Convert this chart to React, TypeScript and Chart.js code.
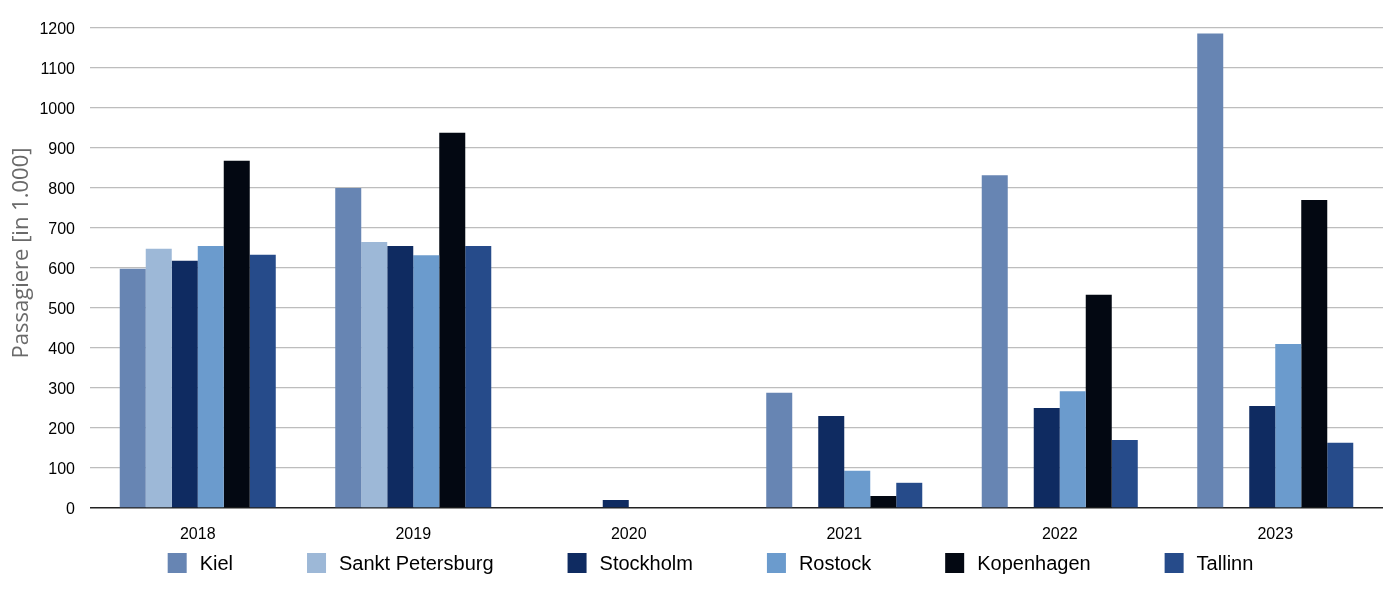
import React, { useEffect, useRef } from "react";
import { Chart, registerables } from "chart.js";

Chart.register(...registerables);

// ---- data ----
const categories = ["2018", "2019", "2020", "2021", "2022", "2023"];
const seriesNames = ["Kiel", "Sankt Petersburg", "Stockholm", "Rostock", "Kopenhagen", "Tallinn"];
const kiel = [598, 800, null, 288, 832, 1186];
const sanktPetersburg = [648, 665, null, null, null, null];
const stockholm = [618, 655, 20, 230, 250, 255];
const rostock = [655, 632, null, 93, 292, 410];
const kopenhagen = [868, 938, null, 30, 533, 770];
const tallinn = [633, 655, null, 63, 170, 163];
const yMin = 0;
const yMax = 1200;
const yStep = 100;
const yTitle = "Passagiere [in 1.000]";

const seriesValues = [kiel, sanktPetersburg, stockholm, rostock, kopenhagen, tallinn];
const seriesColors = ["#6785b3", "#9db8d7", "#0f2b61", "#6b9bcd", "#030812", "#264b8a"];

const SANS = '"Liberation Sans", Arial, Helvetica, sans-serif';

const customLegendAndTitle = {
  id: "customLegendAndTitle",
  afterDraw(chart: any) {
    const ctx = chart.ctx as CanvasRenderingContext2D;
    // legend
    ctx.save();
    ctx.font = `20px ${SANS}`;
    const boxW = 19;
    const boxH = 20;
    const gapText = 13;
    const gapItem = 74;
    const items = chart.data.datasets.map((ds: any) => ({
      label: ds.label as string,
      color: ds.backgroundColor as string,
      w: ctx.measureText(ds.label).width,
    }));
    const total =
      items.reduce((s: number, it: any) => s + boxW + gapText + it.w, 0) + gapItem * (items.length - 1);
    const centerX = 710.5;
    const boxTop = 553;
    let x = centerX - total / 2;
    ctx.textBaseline = "middle";
    ctx.textAlign = "left";
    for (const it of items) {
      ctx.fillStyle = it.color;
      ctx.fillRect(x, boxTop, boxW, boxH);
      ctx.fillStyle = "#000000";
      ctx.fillText(it.label, x + boxW + gapText, boxTop + boxH / 2 + 1);
      x += boxW + gapText + it.w + gapItem;
    }
    ctx.restore();

    // y axis title
    ctx.save();
    ctx.font = `22px "Open Sans", "Noto Sans", sans-serif`;
    ctx.fillStyle = "#6a6a6a";
    ctx.translate(22, 253);
    ctx.rotate(-Math.PI / 2);
    ctx.textAlign = "center";
    ctx.textBaseline = "middle";
    ctx.fillText(yTitle, 0, 0);
    ctx.restore();
  },
};

export default function App() {
  const canvasRef = useRef<HTMLCanvasElement | null>(null);

  useEffect(() => {
    if (!canvasRef.current) return;
    const chart = new Chart(canvasRef.current, {
      type: "bar",
      data: {
        labels: categories,
        datasets: seriesNames.map((name, i) => ({
          label: name,
          data: seriesValues[i],
          backgroundColor: seriesColors[i],
          borderWidth: 0,
          categoryPercentage: 0.724,
          barPercentage: 1.0,
        })),
      },
      options: {
        animation: false,
        responsive: false,
        maintainAspectRatio: false,
        layout: { padding: { top: 28, right: 17, bottom: 0, left: 0 } },
        plugins: {
          legend: { display: false },
          tooltip: { enabled: false },
          title: { display: false },
        },
        scales: {
          x: {
            grid: { display: false },
            border: { display: false },
            ticks: {
              color: "#000000",
              font: { family: SANS, size: 16 },
              padding: 9,
            },
            afterFit: (scale: any) => {
              scale.height = 86;
            },
          },
          y: {
            min: yMin,
            max: yMax,
            ticks: {
              stepSize: yStep,
              color: "#000000",
              font: { family: SANS, size: 16 },
              padding: 15,
              labelOffset: 2,
              callback: (v: any) => String(v),
            },
            grid: {
              drawTicks: false,
              color: (c: any) => (c.tick && c.tick.value === 0 ? "#222222" : "#bdbdbd"),
              lineWidth: (c: any) => (c.tick && c.tick.value === 0 ? 1.5 : 1.2),
            },
            border: { display: false },
            afterFit: (scale: any) => {
              scale.width = 90;
            },
          },
        },
      },
      plugins: [customLegendAndTitle],
    });
    return () => chart.destroy();
  }, []);

  return (
    <div style={{ position: "absolute", left: 0, top: 0, width: 1400, height: 594, background: "#ffffff" }}>
      <canvas ref={canvasRef} width={1400} height={594} style={{ display: "block" }} />
    </div>
  );
}
